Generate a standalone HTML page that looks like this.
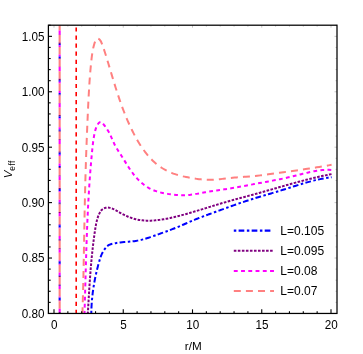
<!DOCTYPE html>
<html><head><meta charset="utf-8"><title>Veff</title>
<style>html,body{margin:0;padding:0;background:#fff;}body{width:363px;height:354px;overflow:hidden;position:relative;font-family:"Liberation Sans",sans-serif;}</style>
</head><body>
<svg width="363" height="354" viewBox="0 0 363 354" style="position:absolute;left:0;top:0;will-change:transform;opacity:0.999">
<rect width="363" height="354" fill="#fff"/>
<defs><clipPath id="c"><rect x="48.4" y="25.2" width="288.6" height="288.25"/></clipPath></defs>
<g clip-path="url(#c)" fill="none" stroke-linecap="butt" stroke-linejoin="round">
<path d="M59.65,25.20 V30.40" stroke="#ff8080" stroke-width="2.1"/>
<path d="M59.65,30.40 V30.60" stroke="#800080" stroke-width="2.1"/>
<path d="M59.65,30.60 V34.70" stroke="#ff00ff" stroke-width="2.1"/>
<path d="M59.65,34.70 V35.00" stroke="#800080" stroke-width="2.1"/>
<path d="M59.65,35.00 V42.50" stroke="#ff8080" stroke-width="2.1"/>
<path d="M59.65,42.50 V43.90" stroke="#800080" stroke-width="2.1"/>
<path d="M59.65,43.90 V45.20" stroke="#0000ff" stroke-width="2.1"/>
<path d="M59.65,45.20 V47.10" stroke="#ff00ff" stroke-width="2.1"/>
<path d="M59.65,47.10 V54.60" stroke="#ff8080" stroke-width="2.1"/>
<path d="M59.65,54.60 V56.60" stroke="#ff00ff" stroke-width="2.1"/>
<path d="M59.65,56.60 V58.20" stroke="#0000ff" stroke-width="2.1"/>
<path d="M59.65,58.20 V59.20" stroke="#800080" stroke-width="2.1"/>
<path d="M59.65,59.20 V66.70" stroke="#ff8080" stroke-width="2.1"/>
<path d="M59.65,66.70 V67.10" stroke="#800080" stroke-width="2.1"/>
<path d="M59.65,67.10 V71.20" stroke="#ff00ff" stroke-width="2.1"/>
<path d="M59.65,71.20 V71.30" stroke="#800080" stroke-width="2.1"/>
<path d="M59.65,71.30 V78.80" stroke="#ff8080" stroke-width="2.1"/>
<path d="M59.65,78.80 V80.20" stroke="#800080" stroke-width="2.1"/>
<path d="M59.65,80.20 V81.70" stroke="#0000ff" stroke-width="2.1"/>
<path d="M59.65,81.70 V83.40" stroke="#ff00ff" stroke-width="2.1"/>
<path d="M59.65,83.40 V90.90" stroke="#ff8080" stroke-width="2.1"/>
<path d="M59.65,90.90 V93.10" stroke="#ff00ff" stroke-width="2.1"/>
<path d="M59.65,93.10 V94.50" stroke="#0000ff" stroke-width="2.1"/>
<path d="M59.65,94.50 V95.50" stroke="#800080" stroke-width="2.1"/>
<path d="M59.65,95.50 V103.00" stroke="#ff8080" stroke-width="2.1"/>
<path d="M59.65,103.00 V103.60" stroke="#800080" stroke-width="2.1"/>
<path d="M59.65,103.60 V107.60" stroke="#ff00ff" stroke-width="2.1"/>
<path d="M59.65,107.60 V115.10" stroke="#ff8080" stroke-width="2.1"/>
<path d="M59.65,115.10 V116.50" stroke="#800080" stroke-width="2.1"/>
<path d="M59.65,116.50 V118.20" stroke="#0000ff" stroke-width="2.1"/>
<path d="M59.65,118.20 V119.70" stroke="#ff00ff" stroke-width="2.1"/>
<path d="M59.65,119.70 V127.20" stroke="#ff8080" stroke-width="2.1"/>
<path d="M59.65,127.20 V129.60" stroke="#ff00ff" stroke-width="2.1"/>
<path d="M59.65,129.60 V130.80" stroke="#0000ff" stroke-width="2.1"/>
<path d="M59.65,130.80 V131.80" stroke="#800080" stroke-width="2.1"/>
<path d="M59.65,131.80 V139.30" stroke="#ff8080" stroke-width="2.1"/>
<path d="M59.65,139.30 V140.10" stroke="#800080" stroke-width="2.1"/>
<path d="M59.65,140.10 V143.90" stroke="#ff00ff" stroke-width="2.1"/>
<path d="M59.65,143.90 V151.40" stroke="#ff8080" stroke-width="2.1"/>
<path d="M59.65,151.40 V151.50" stroke="#ff00ff" stroke-width="2.1"/>
<path d="M59.65,151.50 V152.70" stroke="#800080" stroke-width="2.1"/>
<path d="M59.65,152.70 V154.70" stroke="#0000ff" stroke-width="2.1"/>
<path d="M59.65,154.70 V156.00" stroke="#ff00ff" stroke-width="2.1"/>
<path d="M59.65,156.00 V163.50" stroke="#ff8080" stroke-width="2.1"/>
<path d="M59.65,163.50 V166.10" stroke="#ff00ff" stroke-width="2.1"/>
<path d="M59.65,166.10 V167.00" stroke="#0000ff" stroke-width="2.1"/>
<path d="M59.65,167.00 V168.10" stroke="#800080" stroke-width="2.1"/>
<path d="M59.65,168.10 V175.60" stroke="#ff8080" stroke-width="2.1"/>
<path d="M59.65,175.60 V176.60" stroke="#800080" stroke-width="2.1"/>
<path d="M59.65,176.60 V180.20" stroke="#ff00ff" stroke-width="2.1"/>
<path d="M59.65,180.20 V187.70" stroke="#ff8080" stroke-width="2.1"/>
<path d="M59.65,187.70 V188.00" stroke="#ff00ff" stroke-width="2.1"/>
<path d="M59.65,188.00 V189.00" stroke="#800080" stroke-width="2.1"/>
<path d="M59.65,189.00 V191.20" stroke="#0000ff" stroke-width="2.1"/>
<path d="M59.65,191.20 V192.30" stroke="#ff00ff" stroke-width="2.1"/>
<path d="M59.65,192.30 V199.80" stroke="#ff8080" stroke-width="2.1"/>
<path d="M59.65,199.80 V202.60" stroke="#ff00ff" stroke-width="2.1"/>
<path d="M59.65,202.60 V203.30" stroke="#0000ff" stroke-width="2.1"/>
<path d="M59.65,203.30 V204.40" stroke="#800080" stroke-width="2.1"/>
<path d="M59.65,204.40 V211.90" stroke="#ff8080" stroke-width="2.1"/>
<path d="M59.65,211.90 V213.10" stroke="#800080" stroke-width="2.1"/>
<path d="M59.65,213.10 V216.50" stroke="#ff00ff" stroke-width="2.1"/>
<path d="M59.65,216.50 V224.00" stroke="#ff8080" stroke-width="2.1"/>
<path d="M59.65,224.00 V224.50" stroke="#ff00ff" stroke-width="2.1"/>
<path d="M59.65,224.50 V225.30" stroke="#800080" stroke-width="2.1"/>
<path d="M59.65,225.30 V227.50" stroke="#0000ff" stroke-width="2.1"/>
<path d="M59.65,227.50 V227.70" stroke="#800080" stroke-width="2.1"/>
<path d="M59.65,227.70 V228.60" stroke="#ff00ff" stroke-width="2.1"/>
<path d="M59.65,228.60 V236.10" stroke="#ff8080" stroke-width="2.1"/>
<path d="M59.65,236.10 V239.10" stroke="#ff00ff" stroke-width="2.1"/>
<path d="M59.65,239.10 V239.60" stroke="#0000ff" stroke-width="2.1"/>
<path d="M59.65,239.60 V240.70" stroke="#800080" stroke-width="2.1"/>
<path d="M59.65,240.70 V248.20" stroke="#ff8080" stroke-width="2.1"/>
<path d="M59.65,248.20 V249.40" stroke="#800080" stroke-width="2.1"/>
<path d="M59.65,249.40 V249.60" stroke="#0000ff" stroke-width="2.1"/>
<path d="M59.65,249.60 V252.80" stroke="#ff00ff" stroke-width="2.1"/>
<path d="M59.65,252.80 V260.30" stroke="#ff8080" stroke-width="2.1"/>
<path d="M59.65,260.30 V261.00" stroke="#ff00ff" stroke-width="2.1"/>
<path d="M59.65,261.00 V261.50" stroke="#800080" stroke-width="2.1"/>
<path d="M59.65,261.50 V263.80" stroke="#0000ff" stroke-width="2.1"/>
<path d="M59.65,263.80 V264.20" stroke="#800080" stroke-width="2.1"/>
<path d="M59.65,264.20 V264.90" stroke="#ff00ff" stroke-width="2.1"/>
<path d="M59.65,264.90 V272.40" stroke="#ff8080" stroke-width="2.1"/>
<path d="M59.65,272.40 V275.60" stroke="#ff00ff" stroke-width="2.1"/>
<path d="M59.65,275.60 V275.90" stroke="#0000ff" stroke-width="2.1"/>
<path d="M59.65,275.90 V277.00" stroke="#800080" stroke-width="2.1"/>
<path d="M59.65,277.00 V284.50" stroke="#ff8080" stroke-width="2.1"/>
<path d="M59.65,284.50 V285.70" stroke="#800080" stroke-width="2.1"/>
<path d="M59.65,285.70 V286.10" stroke="#0000ff" stroke-width="2.1"/>
<path d="M59.65,286.10 V289.10" stroke="#ff00ff" stroke-width="2.1"/>
<path d="M59.65,289.10 V296.60" stroke="#ff8080" stroke-width="2.1"/>
<path d="M59.65,296.60 V297.50" stroke="#ff00ff" stroke-width="2.1"/>
<path d="M59.65,297.50 V297.80" stroke="#800080" stroke-width="2.1"/>
<path d="M59.65,297.80 V300.00" stroke="#0000ff" stroke-width="2.1"/>
<path d="M59.65,300.00 V300.70" stroke="#800080" stroke-width="2.1"/>
<path d="M59.65,300.70 V301.20" stroke="#ff00ff" stroke-width="2.1"/>
<path d="M59.65,301.20 V308.70" stroke="#ff8080" stroke-width="2.1"/>
<path d="M59.65,308.70 V312.10" stroke="#ff00ff" stroke-width="2.1"/>
<path d="M59.65,312.10 V313.30" stroke="#800080" stroke-width="2.1"/>
<path d="M59.65,313.30 V313.50" stroke="#ff8080" stroke-width="2.1"/>
<path d="M91.30,314.50C91.30,313.87 91.31,313.23 91.32,312.60C91.33,311.96 91.34,311.33 91.36,310.69C91.38,310.06 91.40,309.42 91.42,308.78C91.45,308.15 91.48,307.51 91.51,306.87C91.54,306.23 91.57,305.59 91.61,304.95C91.65,304.31 91.69,303.67 91.74,303.03C91.78,302.39 91.83,301.75 91.88,301.11C91.93,300.47 91.99,299.83 92.05,299.19C92.11,298.55 92.17,297.91 92.23,297.27C92.30,296.62 92.37,295.98 92.44,295.34C92.51,294.70 92.59,294.06 92.66,293.42C92.74,292.77 92.82,292.13 92.91,291.49C92.99,290.85 93.08,290.21 93.17,289.57C93.26,288.93 93.36,288.29 93.46,287.64C93.55,287.00 93.66,286.36 93.76,285.72C93.86,285.08 93.97,284.44 94.08,283.81C94.19,283.17 94.30,282.53 94.42,281.89C94.54,281.25 94.66,280.61 94.78,279.98C94.90,279.34 95.03,278.70 95.15,278.07C95.28,277.43 95.41,276.80 95.55,276.17C95.68,275.53 95.82,274.90 95.96,274.27C96.10,273.63 96.25,273.00 96.39,272.37C96.54,271.74 96.69,271.11 96.84,270.48C96.99,269.86 97.15,269.23 97.30,268.60C97.46,267.98 97.62,267.35 97.79,266.73C97.95,266.10 98.12,265.48 98.28,264.86C98.45,264.24 98.63,263.62 98.80,263.00C98.97,262.38 99.15,261.76 99.33,261.15C99.51,260.53 99.70,259.92 99.89,259.31C100.08,258.69 100.27,258.08 100.48,257.48C100.69,256.87 100.91,256.27 101.14,255.68C101.37,255.08 101.62,254.49 101.89,253.91C102.16,253.32 102.44,252.74 102.75,252.17C103.06,251.60 103.39,251.04 103.74,250.49C104.09,249.94 104.46,249.40 104.85,248.88C105.24,248.36 105.65,247.85 106.09,247.38C106.52,246.91 106.98,246.46 107.46,246.06C107.95,245.65 108.46,245.29 109.01,244.97C109.55,244.66 110.14,244.40 110.74,244.19C111.35,243.98 111.98,243.81 112.61,243.65C113.24,243.49 113.87,243.35 114.50,243.23C115.13,243.10 115.76,242.99 116.40,242.89C117.03,242.79 117.67,242.70 118.31,242.62C118.95,242.54 119.59,242.47 120.23,242.40C120.87,242.34 121.51,242.28 122.15,242.23C122.79,242.17 123.43,242.12 124.08,242.07C124.72,242.02 125.36,241.97 126.00,241.92C126.65,241.87 127.29,241.82 127.93,241.77C128.57,241.71 129.22,241.66 129.86,241.60C130.50,241.54 131.14,241.48 131.78,241.41C132.42,241.34 133.06,241.26 133.70,241.18C134.34,241.11 134.97,241.02 135.61,240.93C136.24,240.83 136.88,240.73 137.51,240.62C138.14,240.51 138.77,240.40 139.40,240.27C140.03,240.14 140.65,240.00 141.28,239.86C141.90,239.71 142.52,239.55 143.14,239.39C143.76,239.23 144.38,239.05 145.00,238.87C145.61,238.70 146.23,238.51 146.84,238.32C147.46,238.13 148.07,237.93 148.68,237.73C149.29,237.52 149.90,237.32 150.51,237.11C151.12,236.90 151.73,236.68 152.34,236.47C152.95,236.25 153.55,236.03 154.16,235.81C154.77,235.59 155.37,235.37 155.98,235.15C156.59,234.93 157.19,234.71 157.80,234.49C158.41,234.27 159.01,234.05 159.62,233.84C160.23,233.62 160.83,233.40 161.44,233.18C162.04,232.96 162.65,232.75 163.26,232.53C163.86,232.31 164.47,232.09 165.07,231.87C165.68,231.65 166.28,231.43 166.88,231.21C167.49,230.99 168.09,230.77 168.69,230.55C169.30,230.32 169.90,230.10 170.50,229.87C171.10,229.65 171.70,229.42 172.30,229.19C172.90,228.96 173.50,228.73 174.10,228.49C174.69,228.26 175.29,228.02 175.89,227.78C176.48,227.54 177.08,227.30 177.67,227.05C178.26,226.81 178.86,226.56 179.45,226.31C180.04,226.06 180.63,225.81 181.22,225.55C181.81,225.30 182.40,225.04 182.99,224.78C183.58,224.53 184.17,224.27 184.76,224.01C185.35,223.75 185.94,223.49 186.52,223.23C187.11,222.98 187.70,222.72 188.29,222.46C188.88,222.20 189.47,221.95 190.06,221.69C190.65,221.43 191.24,221.18 191.83,220.93C192.42,220.68 193.02,220.43 193.61,220.18C194.20,219.93 194.80,219.69 195.39,219.44C195.99,219.20 196.59,218.96 197.18,218.72C197.78,218.49 198.38,218.25 198.98,218.02C199.58,217.79 200.18,217.56 200.78,217.33C201.38,217.10 201.98,216.87 202.58,216.64C203.18,216.42 203.79,216.19 204.39,215.97C204.99,215.74 205.60,215.52 206.20,215.30C206.80,215.08 207.41,214.85 208.01,214.63C208.61,214.41 209.22,214.19 209.82,213.97C210.43,213.75 211.03,213.53 211.63,213.30C212.24,213.08 212.84,212.86 213.44,212.64C214.05,212.42 214.65,212.20 215.26,211.98C215.86,211.75 216.46,211.53 217.07,211.31C217.67,211.09 218.28,210.87 218.88,210.65C219.48,210.43 220.09,210.21 220.69,209.99C221.30,209.77 221.90,209.55 222.51,209.33C223.11,209.11 223.71,208.89 224.32,208.67C224.92,208.45 225.53,208.23 226.13,208.01C226.74,207.80 227.34,207.58 227.95,207.36C228.55,207.14 229.16,206.93 229.76,206.71C230.37,206.49 230.98,206.28 231.58,206.06C232.19,205.85 232.79,205.63 233.40,205.42C234.01,205.21 234.61,204.99 235.22,204.78C235.83,204.57 236.43,204.36 237.04,204.15C237.65,203.93 238.26,203.72 238.86,203.51C239.47,203.31 240.08,203.10 240.69,202.89C241.30,202.68 241.91,202.47 242.51,202.27C243.12,202.06 243.73,201.86 244.34,201.65C244.95,201.45 245.56,201.25 246.17,201.05C246.78,200.84 247.39,200.64 248.00,200.44C248.62,200.24 249.23,200.05 249.84,199.85C250.45,199.65 251.06,199.46 251.68,199.26C252.29,199.07 252.90,198.87 253.51,198.68C254.13,198.49 254.74,198.30 255.36,198.11C255.97,197.92 256.59,197.73 257.20,197.54C257.82,197.35 258.43,197.17 259.05,196.98C259.66,196.80 260.28,196.61 260.90,196.43C261.51,196.24 262.13,196.06 262.74,195.88C263.36,195.70 263.98,195.51 264.60,195.33C265.21,195.15 265.83,194.97 266.45,194.79C267.06,194.61 267.68,194.42 268.30,194.24C268.91,194.06 269.53,193.88 270.15,193.70C270.77,193.52 271.38,193.33 272.00,193.15C272.62,192.97 273.23,192.79 273.85,192.60C274.47,192.42 275.08,192.23 275.70,192.05C276.31,191.86 276.93,191.68 277.55,191.49C278.16,191.31 278.78,191.12 279.39,190.93C280.01,190.74 280.62,190.55 281.23,190.36C281.85,190.17 282.46,189.97 283.08,189.78C283.69,189.59 284.30,189.39 284.91,189.20C285.53,189.01 286.14,188.81 286.75,188.62C287.37,188.42 287.98,188.23 288.59,188.03C289.20,187.83 289.82,187.64 290.43,187.44C291.04,187.25 291.65,187.05 292.27,186.86C292.88,186.66 293.49,186.47 294.10,186.28C294.72,186.08 295.33,185.89 295.94,185.70C296.56,185.50 297.17,185.31 297.78,185.12C298.40,184.93 299.01,184.74 299.62,184.55C300.24,184.37 300.85,184.18 301.47,183.99C302.08,183.81 302.70,183.62 303.32,183.44C303.93,183.26 304.55,183.08 305.17,182.90C305.78,182.72 306.40,182.55 307.02,182.37C307.64,182.20 308.26,182.03 308.88,181.86C309.49,181.69 310.12,181.52 310.74,181.36C311.36,181.19 311.98,181.03 312.60,180.87C313.22,180.71 313.85,180.56 314.47,180.40C315.10,180.25 315.72,180.10 316.35,179.96C316.97,179.81 317.60,179.67 318.23,179.53C318.86,179.39 319.49,179.25 320.12,179.12C320.75,178.99 321.38,178.86 322.01,178.73C322.65,178.61 323.28,178.49 323.91,178.37C324.55,178.26 325.19,178.15 325.82,178.04C326.46,177.93 327.10,177.83 327.74,177.73C328.38,177.63 329.02,177.54 329.67,177.45C330.31,177.36 330.95,177.28 331.60,177.20" stroke="#0000ff" stroke-width="2.0" stroke-dasharray="2.5 2.3 5.7 2.55" stroke-dashoffset="-1.23"/>
<path d="M87.80,314.50C87.84,313.78 87.88,313.06 87.92,312.34C87.96,311.62 88.00,310.90 88.04,310.17C88.08,309.45 88.12,308.73 88.16,308.01C88.20,307.29 88.24,306.57 88.28,305.85C88.32,305.12 88.36,304.40 88.40,303.68C88.45,302.96 88.49,302.23 88.53,301.51C88.57,300.79 88.61,300.07 88.65,299.35C88.69,298.62 88.74,297.90 88.78,297.18C88.82,296.45 88.86,295.73 88.91,295.01C88.95,294.29 88.99,293.56 89.04,292.84C89.08,292.12 89.13,291.39 89.17,290.67C89.22,289.95 89.26,289.22 89.31,288.50C89.35,287.78 89.40,287.05 89.45,286.33C89.49,285.61 89.54,284.89 89.59,284.16C89.64,283.44 89.68,282.72 89.73,281.99C89.78,281.27 89.83,280.55 89.88,279.82C89.93,279.10 89.99,278.38 90.04,277.65C90.09,276.93 90.14,276.21 90.20,275.48C90.25,274.76 90.30,274.04 90.36,273.31C90.42,272.59 90.47,271.87 90.53,271.15C90.59,270.42 90.64,269.70 90.70,268.98C90.76,268.25 90.82,267.53 90.88,266.81C90.94,266.09 91.00,265.36 91.07,264.64C91.13,263.92 91.19,263.20 91.26,262.48C91.32,261.75 91.39,261.03 91.46,260.31C91.52,259.59 91.59,258.87 91.66,258.15C91.73,257.42 91.80,256.70 91.87,255.98C91.94,255.26 92.02,254.54 92.09,253.82C92.16,253.10 92.24,252.38 92.32,251.66C92.39,250.94 92.47,250.22 92.55,249.50C92.63,248.78 92.71,248.06 92.79,247.34C92.88,246.62 92.96,245.90 93.04,245.18C93.13,244.46 93.21,243.74 93.30,243.02C93.39,242.30 93.48,241.59 93.57,240.87C93.66,240.15 93.75,239.43 93.85,238.71C93.94,238.00 94.04,237.28 94.14,236.56C94.23,235.84 94.33,235.13 94.43,234.41C94.53,233.70 94.63,232.98 94.74,232.26C94.84,231.55 94.95,230.83 95.06,230.12C95.16,229.40 95.28,228.69 95.39,227.97C95.51,227.26 95.63,226.55 95.76,225.84C95.89,225.13 96.03,224.42 96.17,223.71C96.32,223.00 96.48,222.30 96.64,221.60C96.81,220.89 96.99,220.19 97.18,219.50C97.38,218.80 97.59,218.10 97.81,217.42C98.04,216.73 98.29,216.04 98.57,215.37C98.84,214.69 99.14,214.02 99.47,213.35C99.80,212.69 100.16,212.03 100.56,211.41C100.97,210.79 101.42,210.22 101.94,209.72C102.46,209.22 103.05,208.81 103.68,208.48C104.32,208.16 104.99,207.92 105.70,207.77C106.40,207.62 107.12,207.56 107.85,207.60C108.57,207.63 109.29,207.74 109.99,207.90C110.69,208.05 111.37,208.26 112.05,208.50C112.72,208.74 113.37,209.02 114.03,209.33C114.68,209.64 115.32,209.97 115.96,210.32C116.59,210.67 117.23,211.04 117.86,211.41C118.49,211.78 119.12,212.16 119.76,212.53C120.39,212.90 121.03,213.26 121.68,213.61C122.32,213.96 122.97,214.30 123.62,214.63C124.27,214.96 124.93,215.28 125.59,215.58C126.25,215.89 126.92,216.19 127.58,216.47C128.25,216.75 128.93,217.02 129.60,217.28C130.28,217.54 130.96,217.78 131.64,218.01C132.32,218.24 133.01,218.46 133.70,218.66C134.39,218.86 135.09,219.05 135.78,219.22C136.48,219.39 137.18,219.55 137.88,219.69C138.59,219.83 139.29,219.95 140.00,220.06C140.71,220.17 141.43,220.26 142.14,220.34C142.86,220.42 143.57,220.48 144.29,220.53C145.01,220.58 145.73,220.62 146.45,220.64C147.18,220.66 147.90,220.68 148.63,220.67C149.35,220.67 150.08,220.66 150.80,220.64C151.53,220.61 152.26,220.58 152.99,220.53C153.71,220.49 154.44,220.43 155.17,220.37C155.90,220.31 156.62,220.23 157.35,220.15C158.08,220.07 158.80,219.98 159.53,219.88C160.25,219.79 160.98,219.68 161.70,219.57C162.42,219.46 163.14,219.34 163.86,219.22C164.58,219.10 165.30,218.97 166.02,218.84C166.73,218.70 167.45,218.57 168.16,218.42C168.87,218.28 169.58,218.13 170.29,217.98C170.99,217.83 171.70,217.67 172.41,217.51C173.11,217.35 173.82,217.19 174.52,217.02C175.22,216.85 175.92,216.68 176.62,216.51C177.32,216.34 178.02,216.16 178.72,215.98C179.42,215.80 180.12,215.62 180.82,215.43C181.51,215.25 182.21,215.06 182.91,214.87C183.60,214.68 184.30,214.49 185.00,214.29C185.69,214.10 186.39,213.91 187.08,213.71C187.78,213.51 188.47,213.31 189.17,213.11C189.86,212.92 190.55,212.71 191.25,212.51C191.94,212.31 192.64,212.11 193.33,211.90C194.02,211.70 194.72,211.49 195.41,211.28C196.11,211.08 196.80,210.87 197.49,210.66C198.19,210.45 198.88,210.24 199.57,210.03C200.26,209.82 200.96,209.61 201.65,209.40C202.34,209.19 203.04,208.98 203.73,208.77C204.42,208.56 205.11,208.34 205.81,208.13C206.50,207.92 207.19,207.70 207.89,207.49C208.58,207.28 209.27,207.07 209.96,206.85C210.66,206.64 211.35,206.43 212.04,206.21C212.74,206.00 213.43,205.79 214.12,205.58C214.82,205.37 215.51,205.15 216.20,204.94C216.90,204.73 217.59,204.52 218.29,204.31C218.98,204.10 219.67,203.89 220.37,203.68C221.06,203.48 221.76,203.27 222.45,203.06C223.15,202.85 223.84,202.65 224.54,202.44C225.23,202.24 225.93,202.04 226.62,201.83C227.32,201.63 228.01,201.43 228.71,201.23C229.41,201.03 230.10,200.84 230.80,200.64C231.50,200.44 232.19,200.25 232.89,200.05C233.59,199.86 234.29,199.67 234.99,199.48C235.68,199.28 236.38,199.09 237.08,198.90C237.78,198.71 238.48,198.53 239.18,198.34C239.87,198.15 240.57,197.96 241.27,197.77C241.97,197.59 242.67,197.40 243.37,197.21C244.07,197.03 244.77,196.84 245.47,196.65C246.17,196.47 246.86,196.28 247.56,196.09C248.26,195.91 248.96,195.72 249.66,195.53C250.36,195.34 251.06,195.16 251.76,194.97C252.46,194.78 253.15,194.59 253.85,194.40C254.55,194.21 255.25,194.02 255.95,193.83C256.64,193.64 257.34,193.45 258.04,193.25C258.74,193.06 259.43,192.86 260.13,192.67C260.83,192.48 261.53,192.28 262.22,192.08C262.92,191.89 263.62,191.69 264.31,191.50C265.01,191.30 265.71,191.10 266.40,190.90C267.10,190.71 267.80,190.51 268.49,190.31C269.19,190.11 269.89,189.91 270.58,189.71C271.28,189.51 271.98,189.32 272.67,189.12C273.37,188.92 274.06,188.72 274.76,188.52C275.46,188.32 276.15,188.12 276.85,187.92C277.55,187.72 278.24,187.52 278.94,187.32C279.63,187.12 280.33,186.93 281.03,186.73C281.72,186.53 282.42,186.33 283.12,186.13C283.81,185.93 284.51,185.74 285.21,185.54C285.90,185.34 286.60,185.14 287.30,184.95C288.00,184.75 288.69,184.56 289.39,184.36C290.09,184.17 290.79,183.97 291.48,183.78C292.18,183.58 292.88,183.39 293.58,183.20C294.28,183.00 294.97,182.81 295.67,182.62C296.37,182.43 297.07,182.24 297.77,182.05C298.47,181.86 299.17,181.68 299.87,181.49C300.57,181.30 301.27,181.12 301.97,180.93C302.67,180.75 303.37,180.56 304.07,180.38C304.77,180.20 305.47,180.02 306.17,179.84C306.87,179.66 307.57,179.48 308.28,179.30C308.98,179.13 309.68,178.95 310.38,178.78C311.09,178.60 311.79,178.43 312.49,178.26C313.20,178.09 313.90,177.92 314.60,177.75C315.31,177.58 316.01,177.42 316.72,177.25C317.42,177.09 318.13,176.93 318.83,176.77C319.54,176.61 320.25,176.45 320.95,176.29C321.66,176.13 322.37,175.98 323.08,175.83C323.79,175.67 324.49,175.52 325.20,175.38C325.91,175.23 326.62,175.08 327.33,174.94C328.04,174.79 328.75,174.65 329.46,174.51C330.18,174.37 330.89,174.23 331.60,174.10" stroke="#800080" stroke-width="2.0" stroke-dasharray="2.6 1.43" stroke-dashoffset="-0.24"/>
<path d="M84.46,314.50C84.50,313.53 84.53,312.56 84.56,311.59C84.59,310.61 84.62,309.64 84.65,308.67C84.67,307.70 84.70,306.72 84.73,305.75C84.76,304.78 84.79,303.81 84.82,302.83C84.85,301.86 84.88,300.89 84.90,299.92C84.93,298.95 84.96,297.97 84.99,297.00C85.01,296.03 85.04,295.06 85.07,294.08C85.10,293.11 85.12,292.14 85.15,291.17C85.18,290.20 85.20,289.22 85.23,288.25C85.26,287.28 85.28,286.31 85.31,285.34C85.34,284.36 85.36,283.39 85.39,282.42C85.42,281.45 85.44,280.48 85.47,279.50C85.50,278.53 85.53,277.56 85.55,276.59C85.58,275.62 85.61,274.64 85.63,273.67C85.66,272.70 85.69,271.73 85.71,270.76C85.74,269.78 85.77,268.81 85.80,267.84C85.82,266.87 85.85,265.90 85.88,264.92C85.91,263.95 85.94,262.98 85.96,262.01C85.99,261.04 86.02,260.07 86.05,259.09C86.08,258.12 86.11,257.15 86.14,256.18C86.17,255.21 86.20,254.24 86.23,253.26C86.26,252.29 86.29,251.32 86.32,250.35C86.35,249.38 86.38,248.41 86.41,247.43C86.44,246.46 86.48,245.49 86.51,244.52C86.54,243.55 86.57,242.58 86.61,241.61C86.64,240.63 86.67,239.66 86.71,238.69C86.74,237.72 86.78,236.75 86.81,235.78C86.85,234.81 86.89,233.83 86.92,232.86C86.96,231.89 87.00,230.92 87.03,229.95C87.07,228.98 87.11,228.01 87.15,227.04C87.19,226.06 87.23,225.09 87.27,224.12C87.31,223.15 87.35,222.18 87.39,221.21C87.43,220.24 87.47,219.27 87.52,218.30C87.56,217.32 87.60,216.35 87.65,215.38C87.69,214.41 87.74,213.44 87.79,212.47C87.83,211.50 87.88,210.53 87.93,209.56C87.98,208.59 88.02,207.61 88.07,206.64C88.12,205.67 88.17,204.70 88.23,203.73C88.28,202.76 88.33,201.79 88.38,200.82C88.44,199.85 88.49,198.88 88.55,197.91C88.60,196.94 88.66,195.97 88.71,194.99C88.77,194.02 88.83,193.05 88.89,192.08C88.95,191.11 89.01,190.14 89.07,189.17C89.13,188.20 89.19,187.23 89.26,186.26C89.32,185.29 89.39,184.32 89.45,183.35C89.52,182.38 89.59,181.41 89.65,180.44C89.72,179.47 89.79,178.50 89.86,177.53C89.93,176.56 90.01,175.59 90.08,174.62C90.15,173.65 90.23,172.68 90.30,171.71C90.38,170.73 90.45,169.76 90.53,168.79C90.61,167.82 90.69,166.85 90.77,165.88C90.85,164.91 90.94,163.94 91.02,162.97C91.10,162.00 91.19,161.03 91.27,160.06C91.36,159.09 91.45,158.13 91.54,157.16C91.63,156.19 91.72,155.22 91.81,154.25C91.90,153.28 92.00,152.31 92.09,151.34C92.19,150.37 92.29,149.40 92.38,148.43C92.48,147.46 92.59,146.49 92.69,145.52C92.80,144.55 92.92,143.59 93.04,142.62C93.16,141.66 93.29,140.70 93.43,139.74C93.57,138.78 93.73,137.82 93.89,136.87C94.06,135.92 94.24,134.97 94.43,134.02C94.63,133.08 94.84,132.14 95.08,131.21C95.31,130.27 95.58,129.34 95.90,128.42C96.22,127.50 96.59,126.58 97.04,125.68C97.49,124.77 98.01,123.85 98.66,123.14C99.32,122.43 100.19,121.78 101.05,121.98C101.90,122.18 102.61,122.99 103.22,123.77C103.83,124.54 104.38,125.39 104.95,126.19C105.52,127.00 106.09,127.80 106.63,128.60C107.18,129.40 107.71,130.21 108.20,131.04C108.70,131.86 109.16,132.71 109.60,133.57C110.03,134.43 110.45,135.31 110.85,136.20C111.25,137.08 111.64,137.97 112.03,138.87C112.42,139.76 112.81,140.66 113.21,141.55C113.61,142.44 114.02,143.33 114.45,144.20C114.89,145.07 115.34,145.93 115.82,146.78C116.29,147.63 116.79,148.47 117.29,149.31C117.80,150.14 118.32,150.97 118.84,151.79C119.37,152.61 119.90,153.42 120.43,154.24C120.96,155.06 121.49,155.87 122.01,156.69C122.53,157.50 123.05,158.32 123.56,159.14C124.07,159.96 124.57,160.79 125.08,161.61C125.58,162.43 126.08,163.26 126.59,164.08C127.10,164.90 127.61,165.72 128.14,166.54C128.66,167.36 129.19,168.17 129.74,168.98C130.29,169.79 130.85,170.60 131.42,171.40C132.00,172.19 132.58,172.99 133.19,173.77C133.79,174.55 134.41,175.32 135.04,176.07C135.67,176.83 136.32,177.57 136.99,178.30C137.65,179.02 138.33,179.73 139.02,180.43C139.72,181.12 140.43,181.79 141.16,182.44C141.89,183.09 142.63,183.71 143.39,184.32C144.15,184.92 144.93,185.50 145.72,186.04C146.52,186.59 147.33,187.11 148.16,187.60C148.99,188.09 149.84,188.55 150.71,188.98C151.57,189.40 152.46,189.79 153.35,190.16C154.25,190.53 155.16,190.86 156.09,191.17C157.01,191.48 157.94,191.77 158.89,192.03C159.83,192.30 160.79,192.54 161.75,192.76C162.71,192.98 163.67,193.18 164.64,193.37C165.61,193.56 166.59,193.73 167.56,193.88C168.53,194.04 169.51,194.19 170.48,194.32C171.46,194.46 172.43,194.58 173.40,194.69C174.38,194.80 175.35,194.90 176.32,194.97C177.29,195.05 178.26,195.12 179.23,195.16C180.20,195.21 181.16,195.23 182.13,195.24C183.10,195.24 184.07,195.23 185.03,195.19C186.00,195.15 186.96,195.09 187.93,195.01C188.89,194.93 189.86,194.83 190.82,194.71C191.78,194.60 192.75,194.47 193.71,194.33C194.67,194.18 195.63,194.03 196.59,193.87C197.56,193.71 198.52,193.54 199.48,193.37C200.44,193.20 201.40,193.02 202.36,192.84C203.32,192.66 204.28,192.48 205.24,192.31C206.20,192.13 207.16,191.96 208.12,191.79C209.09,191.62 210.05,191.46 211.01,191.31C211.97,191.15 212.93,191.00 213.89,190.86C214.85,190.71 215.81,190.56 216.77,190.42C217.73,190.28 218.69,190.14 219.66,190.00C220.62,189.86 221.58,189.73 222.54,189.59C223.50,189.45 224.46,189.31 225.42,189.17C226.38,189.02 227.34,188.88 228.30,188.73C229.25,188.58 230.21,188.43 231.17,188.28C232.13,188.12 233.09,187.96 234.05,187.80C235.00,187.64 235.96,187.47 236.92,187.30C237.88,187.13 238.83,186.96 239.79,186.78C240.75,186.61 241.70,186.43 242.66,186.26C243.62,186.08 244.57,185.90 245.53,185.72C246.49,185.54 247.44,185.36 248.40,185.17C249.35,184.99 250.31,184.81 251.27,184.63C252.22,184.45 253.18,184.27 254.13,184.09C255.09,183.91 256.05,183.73 257.00,183.55C257.96,183.37 258.92,183.20 259.87,183.02C260.83,182.84 261.79,182.66 262.74,182.49C263.70,182.31 264.65,182.13 265.61,181.96C266.57,181.78 267.52,181.60 268.48,181.42C269.43,181.24 270.39,181.06 271.34,180.88C272.30,180.70 273.25,180.52 274.21,180.33C275.16,180.14 276.12,179.96 277.07,179.77C278.02,179.58 278.97,179.39 279.93,179.19C280.88,179.00 281.83,178.80 282.78,178.60C283.73,178.40 284.68,178.20 285.63,177.99C286.58,177.78 287.53,177.57 288.48,177.35C289.43,177.14 290.38,176.92 291.32,176.70C292.27,176.47 293.22,176.24 294.16,176.01C295.10,175.78 296.05,175.54 296.99,175.29C297.94,175.05 298.88,174.81 299.82,174.56C300.76,174.31 301.71,174.07 302.65,173.82C303.59,173.58 304.54,173.34 305.48,173.10C306.43,172.87 307.37,172.63 308.32,172.41C309.26,172.19 310.21,171.97 311.16,171.77C312.11,171.56 313.07,171.37 314.02,171.19C314.98,171.01 315.93,170.84 316.90,170.69C317.86,170.54 318.82,170.41 319.79,170.29C320.75,170.17 321.73,170.08 322.70,170.00C323.68,169.93 324.65,169.88 325.64,169.85C326.62,169.82 327.61,169.82 328.60,169.84C329.60,169.87 330.60,169.92 331.60,170.00" stroke="#ff00ff" stroke-width="2.0" stroke-dasharray="3.8 3.28" stroke-dashoffset="-6.89"/>
<path d="M82.37,314.50C82.41,313.25 82.46,311.99 82.50,310.74C82.54,309.49 82.58,308.24 82.62,306.98C82.66,305.73 82.70,304.48 82.73,303.22C82.77,301.97 82.81,300.72 82.84,299.46C82.88,298.21 82.91,296.96 82.95,295.70C82.98,294.45 83.01,293.20 83.05,291.94C83.08,290.69 83.11,289.44 83.14,288.18C83.17,286.93 83.20,285.68 83.23,284.42C83.26,283.17 83.29,281.92 83.32,280.66C83.35,279.41 83.38,278.16 83.41,276.90C83.43,275.65 83.46,274.40 83.49,273.14C83.51,271.89 83.54,270.64 83.56,269.38C83.59,268.13 83.61,266.88 83.64,265.62C83.66,264.37 83.69,263.12 83.71,261.86C83.74,260.61 83.76,259.36 83.78,258.10C83.81,256.85 83.83,255.60 83.85,254.34C83.88,253.09 83.90,251.84 83.92,250.58C83.94,249.33 83.97,248.08 83.99,246.82C84.01,245.57 84.03,244.32 84.06,243.06C84.08,241.81 84.10,240.56 84.12,239.30C84.15,238.05 84.17,236.79 84.19,235.54C84.21,234.29 84.23,233.03 84.26,231.78C84.28,230.53 84.30,229.27 84.32,228.02C84.35,226.77 84.37,225.51 84.39,224.26C84.42,223.01 84.44,221.75 84.46,220.50C84.49,219.25 84.51,217.99 84.53,216.74C84.56,215.49 84.58,214.23 84.61,212.98C84.63,211.73 84.66,210.47 84.68,209.22C84.71,207.97 84.74,206.71 84.76,205.46C84.79,204.20 84.82,202.95 84.84,201.70C84.87,200.44 84.90,199.19 84.93,197.94C84.96,196.68 84.99,195.43 85.02,194.18C85.05,192.93 85.08,191.67 85.11,190.42C85.14,189.17 85.17,187.91 85.20,186.66C85.24,185.41 85.27,184.15 85.30,182.90C85.34,181.65 85.37,180.39 85.41,179.14C85.44,177.89 85.48,176.63 85.51,175.38C85.55,174.13 85.59,172.87 85.63,171.62C85.66,170.37 85.70,169.11 85.74,167.86C85.78,166.61 85.82,165.36 85.86,164.10C85.90,162.85 85.94,161.60 85.99,160.34C86.03,159.09 86.07,157.84 86.11,156.58C86.16,155.33 86.20,154.08 86.24,152.83C86.29,151.57 86.33,150.32 86.38,149.07C86.42,147.81 86.47,146.56 86.52,145.31C86.56,144.06 86.61,142.80 86.66,141.55C86.71,140.30 86.76,139.05 86.81,137.79C86.85,136.54 86.90,135.29 86.95,134.03C87.01,132.78 87.06,131.53 87.11,130.28C87.16,129.02 87.21,127.77 87.26,126.52C87.32,125.27 87.37,124.01 87.42,122.76C87.48,121.51 87.53,120.26 87.59,119.00C87.64,117.75 87.70,116.50 87.75,115.25C87.81,113.99 87.86,112.74 87.92,111.49C87.98,110.24 88.03,108.98 88.09,107.73C88.15,106.48 88.21,105.23 88.27,103.97C88.33,102.72 88.39,101.47 88.45,100.22C88.51,98.96 88.58,97.71 88.64,96.46C88.71,95.21 88.78,93.96 88.85,92.71C88.92,91.45 88.99,90.20 89.07,88.95C89.14,87.70 89.22,86.45 89.30,85.20C89.38,83.95 89.46,82.70 89.55,81.44C89.63,80.19 89.72,78.94 89.82,77.69C89.91,76.44 90.01,75.19 90.11,73.94C90.21,72.69 90.32,71.44 90.43,70.20C90.54,68.95 90.65,67.70 90.77,66.45C90.89,65.20 91.02,63.95 91.15,62.70C91.27,61.46 91.41,60.21 91.55,58.96C91.69,57.71 91.84,56.47 92.01,55.23C92.17,53.99 92.36,52.75 92.56,51.51C92.77,50.28 93.01,49.06 93.27,47.84C93.54,46.62 93.84,45.41 94.21,44.21C94.58,43.00 95.02,41.81 95.55,40.61C96.09,39.42 96.69,37.94 97.86,38.38C99.03,38.82 99.94,39.82 100.59,40.89C101.24,41.95 101.70,43.17 102.15,44.36C102.61,45.55 103.04,46.74 103.45,47.93C103.86,49.12 104.25,50.31 104.63,51.50C105.01,52.69 105.39,53.88 105.76,55.07C106.13,56.26 106.50,57.46 106.87,58.65C107.23,59.85 107.60,61.04 107.96,62.24C108.32,63.44 108.68,64.64 109.04,65.84C109.41,67.04 109.76,68.24 110.12,69.44C110.48,70.64 110.84,71.84 111.20,73.04C111.56,74.24 111.92,75.44 112.28,76.64C112.65,77.85 113.01,79.05 113.37,80.25C113.74,81.45 114.10,82.65 114.47,83.85C114.84,85.05 115.22,86.24 115.59,87.44C115.97,88.64 116.35,89.83 116.73,91.03C117.11,92.22 117.50,93.42 117.89,94.61C118.28,95.80 118.68,96.99 119.08,98.18C119.48,99.37 119.89,100.56 120.30,101.74C120.72,102.92 121.14,104.11 121.56,105.29C121.99,106.46 122.42,107.64 122.87,108.82C123.31,109.99 123.76,111.16 124.21,112.33C124.67,113.50 125.13,114.66 125.61,115.82C126.08,116.98 126.56,118.14 127.05,119.29C127.54,120.45 128.04,121.60 128.55,122.74C129.06,123.89 129.57,125.03 130.10,126.16C130.63,127.30 131.16,128.43 131.71,129.56C132.25,130.69 132.81,131.81 133.37,132.92C133.94,134.04 134.52,135.15 135.11,136.25C135.70,137.36 136.30,138.45 136.92,139.54C137.54,140.63 138.18,141.71 138.83,142.78C139.48,143.85 140.15,144.91 140.84,145.97C141.52,147.02 142.23,148.06 142.96,149.09C143.69,150.12 144.44,151.14 145.21,152.14C145.99,153.15 146.78,154.14 147.60,155.11C148.42,156.09 149.26,157.04 150.12,157.97C150.98,158.90 151.87,159.81 152.78,160.69C153.69,161.57 154.62,162.42 155.58,163.24C156.53,164.06 157.51,164.85 158.51,165.60C159.51,166.35 160.54,167.07 161.59,167.74C162.64,168.41 163.71,169.05 164.80,169.65C165.89,170.24 167.00,170.81 168.13,171.34C169.26,171.86 170.41,172.36 171.57,172.82C172.73,173.29 173.91,173.72 175.10,174.13C176.28,174.53 177.48,174.91 178.70,175.26C179.91,175.61 181.13,175.94 182.35,176.24C183.58,176.54 184.82,176.82 186.06,177.08C187.30,177.34 188.54,177.58 189.79,177.80C191.03,178.02 192.28,178.23 193.53,178.42C194.77,178.61 196.02,178.78 197.27,178.94C198.51,179.10 199.76,179.24 201.00,179.36C202.24,179.48 203.49,179.58 204.73,179.65C205.98,179.72 207.22,179.77 208.47,179.79C209.71,179.80 210.96,179.79 212.20,179.74C213.45,179.69 214.70,179.61 215.95,179.51C217.20,179.42 218.45,179.30 219.70,179.16C220.94,179.03 222.20,178.89 223.45,178.74C224.70,178.59 225.95,178.44 227.20,178.30C228.45,178.15 229.70,178.01 230.95,177.89C232.20,177.76 233.45,177.65 234.70,177.54C235.95,177.43 237.21,177.34 238.46,177.24C239.71,177.15 240.96,177.06 242.21,176.97C243.46,176.88 244.70,176.79 245.95,176.70C247.20,176.61 248.45,176.52 249.70,176.42C250.95,176.32 252.19,176.22 253.44,176.11C254.69,175.99 255.93,175.87 257.18,175.74C258.43,175.61 259.67,175.47 260.91,175.32C262.16,175.17 263.40,175.02 264.65,174.86C265.89,174.70 267.13,174.53 268.38,174.36C269.62,174.19 270.86,174.02 272.10,173.84C273.35,173.67 274.59,173.49 275.83,173.31C277.07,173.13 278.31,172.96 279.56,172.78C280.80,172.60 282.04,172.42 283.28,172.25C284.52,172.07 285.76,171.90 287.01,171.72C288.25,171.55 289.49,171.38 290.73,171.20C291.97,171.03 293.21,170.85 294.45,170.68C295.69,170.50 296.93,170.33 298.17,170.15C299.41,169.97 300.66,169.79 301.90,169.62C303.14,169.44 304.38,169.26 305.61,169.07C306.85,168.89 308.09,168.70 309.33,168.52C310.57,168.33 311.81,168.14 313.05,167.95C314.29,167.76 315.53,167.56 316.76,167.36C318.00,167.17 319.24,166.96 320.48,166.76C321.71,166.55 322.95,166.34 324.19,166.13C325.42,165.92 326.66,165.70 327.89,165.48C329.13,165.26 330.37,165.03 331.60,164.80" stroke="#ff8080" stroke-width="2.0" stroke-dasharray="7.0 5.1" stroke-dashoffset="-0.25"/>
<path d="M76.2,25.2 V313.45" stroke="#ff0000" stroke-width="1.6" stroke-dasharray="4.2 3.87" stroke-dashoffset="5.87"/>
</g>
<g stroke="#000" stroke-width="1.1" fill="none">
<path d="M54.00,313.45 v-4.1"/>
<path d="M67.85,313.45 v-2.2"/>
<path d="M81.70,313.45 v-2.2"/>
<path d="M95.55,313.45 v-2.2"/>
<path d="M109.40,313.45 v-2.2"/>
<path d="M123.25,313.45 v-4.1"/>
<path d="M137.10,313.45 v-2.2"/>
<path d="M150.95,313.45 v-2.2"/>
<path d="M164.80,313.45 v-2.2"/>
<path d="M178.65,313.45 v-2.2"/>
<path d="M192.50,313.45 v-4.1"/>
<path d="M206.35,313.45 v-2.2"/>
<path d="M220.20,313.45 v-2.2"/>
<path d="M234.05,313.45 v-2.2"/>
<path d="M247.90,313.45 v-2.2"/>
<path d="M261.75,313.45 v-4.1"/>
<path d="M275.60,313.45 v-2.2"/>
<path d="M289.45,313.45 v-2.2"/>
<path d="M303.30,313.45 v-2.2"/>
<path d="M317.15,313.45 v-2.2"/>
<path d="M331.00,313.45 v-4.1"/>
<path d="M48.4,302.37 h2.3"/>
<path d="M48.4,291.28 h2.3"/>
<path d="M48.4,280.20 h2.3"/>
<path d="M48.4,269.11 h2.3"/>
<path d="M48.4,258.03 h3.6"/>
<path d="M48.4,246.95 h2.3"/>
<path d="M48.4,235.86 h2.3"/>
<path d="M48.4,224.78 h2.3"/>
<path d="M48.4,213.69 h2.3"/>
<path d="M48.4,202.61 h3.6"/>
<path d="M48.4,191.53 h2.3"/>
<path d="M48.4,180.44 h2.3"/>
<path d="M48.4,169.36 h2.3"/>
<path d="M48.4,158.27 h2.3"/>
<path d="M48.4,147.19 h3.6"/>
<path d="M48.4,136.11 h2.3"/>
<path d="M48.4,125.02 h2.3"/>
<path d="M48.4,113.94 h2.3"/>
<path d="M48.4,102.85 h2.3"/>
<path d="M48.4,91.77 h3.6"/>
<path d="M48.4,80.69 h2.3"/>
<path d="M48.4,69.60 h2.3"/>
<path d="M48.4,58.52 h2.3"/>
<path d="M48.4,47.43 h2.3"/>
<path d="M48.4,36.35 h3.6"/>
<path d="M48.4,25.27 h2.3"/>
</g>
<g stroke="#888" stroke-width="0.6" fill="none" opacity="0.8">
<path d="M54.00,25.2 v2.5"/>
<path d="M67.85,25.2 v1.5"/>
<path d="M81.70,25.2 v1.5"/>
<path d="M95.55,25.2 v1.5"/>
<path d="M109.40,25.2 v1.5"/>
<path d="M123.25,25.2 v2.5"/>
<path d="M137.10,25.2 v1.5"/>
<path d="M150.95,25.2 v1.5"/>
<path d="M164.80,25.2 v1.5"/>
<path d="M178.65,25.2 v1.5"/>
<path d="M192.50,25.2 v2.5"/>
<path d="M206.35,25.2 v1.5"/>
<path d="M220.20,25.2 v1.5"/>
<path d="M234.05,25.2 v1.5"/>
<path d="M247.90,25.2 v1.5"/>
<path d="M261.75,25.2 v2.5"/>
<path d="M275.60,25.2 v1.5"/>
<path d="M289.45,25.2 v1.5"/>
<path d="M303.30,25.2 v1.5"/>
<path d="M317.15,25.2 v1.5"/>
<path d="M331.00,25.2 v2.5"/>
<path d="M337.0,302.37 h-1.5"/>
<path d="M337.0,291.28 h-1.5"/>
<path d="M337.0,280.20 h-1.5"/>
<path d="M337.0,269.11 h-1.5"/>
<path d="M337.0,258.03 h-2.5"/>
<path d="M337.0,246.95 h-1.5"/>
<path d="M337.0,235.86 h-1.5"/>
<path d="M337.0,224.78 h-1.5"/>
<path d="M337.0,213.69 h-1.5"/>
<path d="M337.0,202.61 h-2.5"/>
<path d="M337.0,191.53 h-1.5"/>
<path d="M337.0,180.44 h-1.5"/>
<path d="M337.0,169.36 h-1.5"/>
<path d="M337.0,158.27 h-1.5"/>
<path d="M337.0,147.19 h-2.5"/>
<path d="M337.0,136.11 h-1.5"/>
<path d="M337.0,125.02 h-1.5"/>
<path d="M337.0,113.94 h-1.5"/>
<path d="M337.0,102.85 h-1.5"/>
<path d="M337.0,91.77 h-2.5"/>
<path d="M337.0,80.69 h-1.5"/>
<path d="M337.0,69.60 h-1.5"/>
<path d="M337.0,58.52 h-1.5"/>
<path d="M337.0,47.43 h-1.5"/>
<path d="M337.0,36.35 h-2.5"/>
<path d="M337.0,25.27 h-1.5"/>
</g>
<rect x="48.4" y="25.2" width="288.6" height="288.25" stroke="#000" stroke-width="1.25" fill="none"/>
<path d="M233.8,230.6 H271.5" stroke="#0000ff" stroke-width="2.05" stroke-dasharray="2.5 2.3 5.7 2.55" fill="none"/>
<path d="M233.8,250.8 H273.2" stroke="#800080" stroke-width="2.05" stroke-dasharray="2.6 1.43" fill="none"/>
<path d="M233.8,270.9 H274.0" stroke="#ff00ff" stroke-width="2.05" stroke-dasharray="3.9 3.35" fill="none"/>
<path d="M233.8,291.0 H274.0" stroke="#ff8080" stroke-width="2.05" stroke-dasharray="7.0 5.1" fill="none"/>
<g font-family="Liberation Sans, sans-serif" font-size="11.7" fill="#000">
<text transform="translate(44.6,317.90) scale(1,1.05)" text-anchor="end">0.80</text>
<text transform="translate(44.6,262.48) scale(1,1.05)" text-anchor="end">0.85</text>
<text transform="translate(44.6,207.06) scale(1,1.05)" text-anchor="end">0.90</text>
<text transform="translate(44.6,151.64) scale(1,1.05)" text-anchor="end">0.95</text>
<text transform="translate(44.6,96.22) scale(1,1.05)" text-anchor="end">1.00</text>
<text transform="translate(44.6,40.80) scale(1,1.05)" text-anchor="end">1.05</text>
<text transform="translate(54.30,328.5) scale(1,1.02)" text-anchor="middle">0</text>
<text transform="translate(123.55,328.5) scale(1,1.02)" text-anchor="middle">5</text>
<text transform="translate(192.80,328.5) scale(1,1.02)" text-anchor="middle">10</text>
<text transform="translate(262.05,328.5) scale(1,1.02)" text-anchor="middle">15</text>
<text transform="translate(331.30,328.5) scale(1,1.02)" text-anchor="middle">20</text>
<text x="193.3" y="349.8" text-anchor="middle">r/M</text>
<text transform="translate(280.3,234.55) scale(1,1.02)" font-size="12.05">L=0.105</text>
<text transform="translate(280.3,254.85) scale(1,1.02)" font-size="12.05">L=0.095</text>
<text transform="translate(280.3,274.85) scale(1,1.02)" font-size="12.05">L=0.08</text>
<text transform="translate(280.3,294.85) scale(1,1.02)" font-size="12.05">L=0.07</text>
<text transform="translate(12.1,178.3) rotate(-90)" font-size="11.5"><tspan font-style="italic">V</tspan><tspan font-size="8.3" dy="2.4" letter-spacing="0.4">eff</tspan></text>
</g>
</svg>
</body></html>
